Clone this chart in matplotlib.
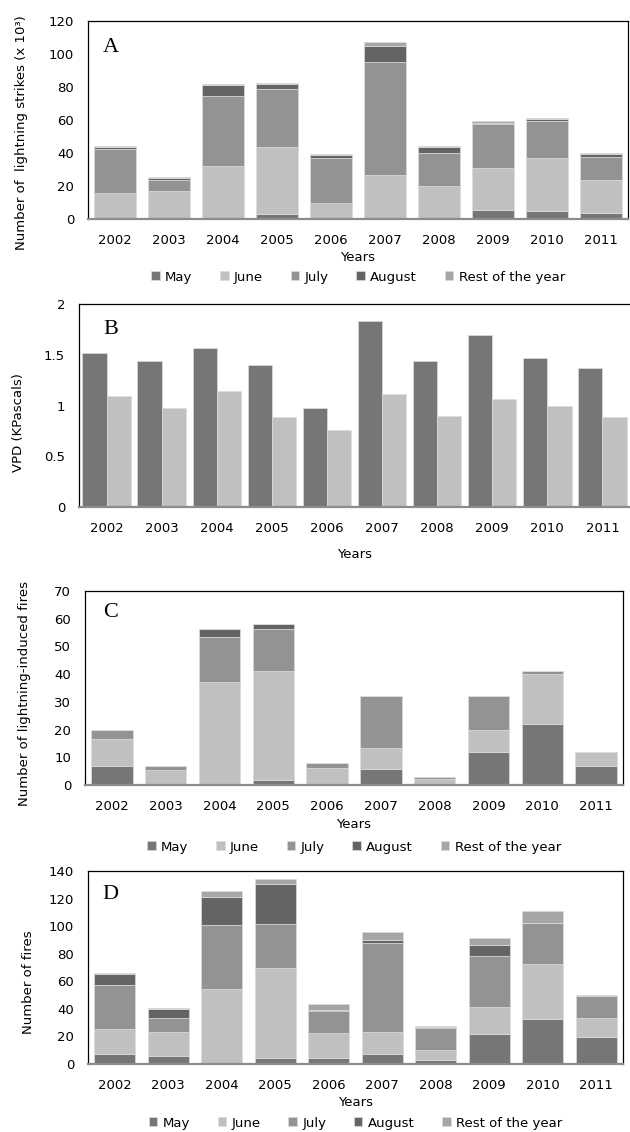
import numpy as np
import matplotlib
matplotlib.use("Agg")
import matplotlib.pyplot as plt
from matplotlib.ticker import FormatStrFormatter

plt.rcParams["font.family"] = ["DejaVu Sans"]
plt.rcParams["font.size"] = 9.5

years = ["2002", "2003", "2004", "2005", "2006", "2007", "2008", "2009", "2010", "2011"]
months = ["May", "June", "July", "August", "Rest of the year"]
month_colors = ["#767676", "#c0c0c0", "#939393", "#646464", "#a6a6a6"]

# panel A: lightning strikes (x 10^3), one list per month group
strikes_may = [0.3, 0.5, 0.8, 2.8, 0.2, 0.8, 0.2, 5.7, 4.6, 3.4]
strikes_june = [15.2, 16.3, 31.2, 40.7, 9.8, 25.7, 19.5, 25.3, 32.6, 20.5]
strikes_july = [27.0, 6.7, 42.5, 35.5, 27.0, 68.7, 20.3, 26.5, 22.0, 13.7]
strikes_aug = [1.0, 1.5, 6.8, 2.7, 1.8, 9.8, 3.5, 0.8, 1.4, 1.6]
strikes_rest = [1.0, 0.5, 0.5, 0.6, 0.5, 2.3, 0.5, 1.2, 0.5, 0.6]

# panel B: VPD
vpd_dark = [1.52, 1.44, 1.57, 1.40, 0.98, 1.83, 1.44, 1.69, 1.47, 1.37]
vpd_light = [1.09, 0.98, 1.14, 0.89, 0.76, 1.11, 0.90, 1.06, 1.00, 0.89]

# panel C: lightning-induced fires
lfires_may = [7.0, 0.0, 0.0, 1.9, 0.0, 5.9, 0.0, 12.0, 22.0, 7.0]
lfires_june = [9.5, 5.3, 37.2, 39.3, 6.2, 7.3, 2.3, 8.0, 18.2, 5.0]
lfires_july = [3.5, 1.7, 16.2, 15.0, 1.8, 18.8, 0.7, 12.0, 0.8, 0.0]
lfires_aug = [0.0, 0.0, 2.8, 2.0, 0.0, 0.0, 0.0, 0.0, 0.0, 0.0]
lfires_rest = [0.0, 0.0, 0.0, 0.0, 0.0, 0.0, 0.0, 0.0, 0.0, 0.0]

# panel D: all fires
fires_may = [7.5, 5.8, 1.0, 4.6, 4.6, 7.5, 3.0, 21.8, 32.9, 19.6]
fires_june = [17.7, 17.7, 53.4, 64.9, 17.6, 15.7, 7.0, 19.5, 39.6, 13.8]
fires_july = [32.3, 10.0, 46.2, 32.3, 16.4, 64.4, 16.4, 37.3, 29.8, 15.8]
fires_aug = [7.8, 6.3, 20.9, 29.0, 0.4, 2.4, 0.2, 7.6, 0.2, 0.2]
fires_rest = [0.9, 0.6, 4.3, 3.2, 4.3, 5.5, 0.7, 5.2, 8.3, 0.9]

W, H = 630, 1132
fig = plt.figure(figsize=(W / 100, H / 100), dpi=100)


def px_axes(left, right, top, bottom):
    return fig.add_axes([left / W, 1 - bottom / H, (right - left) / W, (bottom - top) / H])


def style_axes(ax, ymax, step, letter, lx, ly):
    ax.set_xlim(-0.5, 9.5)
    ax.set_ylim(0, ymax)
    ax.set_yticks(np.arange(0, ymax + step / 2, step))
    ax.set_xticks(range(len(years)))
    ax.set_xticklabels(years)
    ax.tick_params(axis="both", length=0, labelsize=9.5)
    ax.tick_params(axis="x", pad=11)
    ax.tick_params(axis="y", pad=10)
    for side in ["top", "right", "left"]:
        ax.spines[side].set_color("black")
        ax.spines[side].set_linewidth(0.9)
    ax.spines["bottom"].set_color("#8c8c8c")
    ax.spines["bottom"].set_linewidth(1.6)
    ax.text(lx, ly, letter, transform=ax.transAxes, fontsize=16,
            family="Liberation Serif", va="center", ha="left")


def stacked(ax, series):
    x = np.arange(len(years))
    bottom = np.zeros(len(years))
    handles = []
    for vals, name, col in zip(series, months, month_colors):
        b = ax.bar(x, vals, 0.77, bottom=bottom, color=col, edgecolor="#dcdcdc",
                   linewidth=0.5, label=name)
        handles.append(b)
        bottom = bottom + np.array(vals)
    return handles


def labels(ax, ylabel, ylab_x, ylab_y, xlab_y):
    ax.set_ylabel(ylabel, va="center", ha="center")
    ax.yaxis.set_label_coords(ylab_x / W, 1 - ylab_y / H, transform=fig.transFigure)
    ax.set_xlabel("Years", va="center", ha="center")
    pos = ax.get_position()
    ax.xaxis.set_label_coords(pos.x0 + pos.width / 2, 1 - xlab_y / H, transform=fig.transFigure)


def month_legend(ax, handles, y):
    pos = ax.get_position()
    fig.legend(handles, months, loc="center", ncol=5, frameon=False,
               bbox_to_anchor=(pos.x0 + pos.width / 2, 1 - y / H),
               handlelength=0.65, handleheight=0.65, handletextpad=0.4,
               columnspacing=2.1, fontsize=9.5, borderaxespad=0, borderpad=0)


# A
axA = px_axes(88, 628, 21, 219)
hA = stacked(axA, [strikes_may, strikes_june, strikes_july, strikes_aug, strikes_rest])
style_axes(axA, 120, 20, "A", 0.028, 0.864)
labels(axA, "Number of  lightning strikes (x 10³)", 22, 133, 257)
month_legend(axA, hA, 277)

# B
axB = px_axes(79, 630, 304, 507)
xb = np.arange(len(years))
axB.bar(xb - 0.22, vpd_dark, 0.44, color="#767676", edgecolor="#dcdcdc", linewidth=0.5)
axB.bar(xb + 0.22, vpd_light, 0.44, color="#c0c0c0", edgecolor="#dcdcdc", linewidth=0.5)
style_axes(axB, 2, 0.5, "B", 0.045, 0.872)
axB.yaxis.set_major_formatter(FormatStrFormatter("%g"))
axB.spines["right"].set_visible(False)
labels(axB, "VPD (KPascals)", 19, 423, 555)

# C
axC = px_axes(85, 623, 591, 785)
hC = stacked(axC, [lfires_may, lfires_june, lfires_july, lfires_aug, lfires_rest])
style_axes(axC, 70, 10, "C", 0.033, 0.887)
labels(axC, "Number of lightning-induced fires", 25, 694, 825)
month_legend(axC, hC, 847)

# D
axD = px_axes(88, 623, 871, 1064)
hD = stacked(axD, [fires_may, fires_june, fires_july, fires_aug, fires_rest])
style_axes(axD, 140, 20, "D", 0.026, 0.876)
labels(axD, "Number of fires", 29, 982, 1103)
month_legend(axD, hD, 1123)

fig.savefig("out.png", dpi=100)
